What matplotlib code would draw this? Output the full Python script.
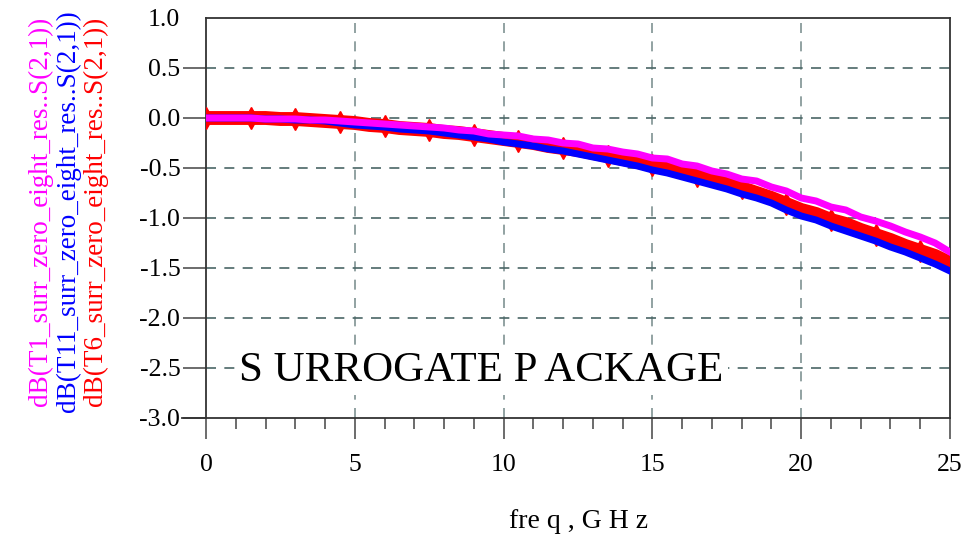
import numpy as np
import matplotlib
matplotlib.use("Agg")
import matplotlib.pyplot as plt
from matplotlib.ticker import MultipleLocator

plt.rcParams['font.family'] = ['Liberation Serif', 'DejaVu Serif']

# Frequency sweep (GHz) and the three S(2,1) traces in dB
freq = np.arange(0, 25.01, 0.5)

s21_t1 = [0.00, 0.00, 0.00, 0.00, -0.01, -0.01, -0.01, -0.02, -0.02, -0.03,
          -0.04, -0.05, -0.06, -0.07, -0.08, -0.09, -0.10, -0.12, -0.13, -0.16,
          -0.17, -0.18, -0.21, -0.22, -0.25, -0.26, -0.30, -0.31, -0.34, -0.36,
          -0.40, -0.41, -0.46, -0.48, -0.53, -0.56, -0.61, -0.63, -0.69, -0.73,
          -0.80, -0.83, -0.89, -0.92, -0.99, -1.03, -1.08, -1.14, -1.19, -1.25,
          -1.34]

s21_t11 = [0.00, 0.00, 0.00, 0.00, -0.01, -0.01, -0.02, -0.02, -0.03, -0.05,
           -0.07, -0.08, -0.09, -0.11, -0.12, -0.13, -0.15, -0.17, -0.19, -0.21,
           -0.24, -0.26, -0.28, -0.31, -0.33, -0.36, -0.39, -0.42, -0.45, -0.48,
           -0.52, -0.55, -0.59, -0.63, -0.67, -0.71, -0.76, -0.80, -0.85, -0.92,
           -0.98, -1.02, -1.08, -1.13, -1.18, -1.23, -1.29, -1.34, -1.40, -1.46,
           -1.53]

s21_t6 = [0.00, 0.00, 0.00, 0.00, 0.00, -0.01, -0.01, -0.02, -0.03, -0.04,
          -0.05, -0.07, -0.08, -0.10, -0.11, -0.12, -0.14, -0.15, -0.17, -0.19,
          -0.21, -0.23, -0.25, -0.28, -0.30, -0.32, -0.35, -0.38, -0.41, -0.44,
          -0.47, -0.50, -0.54, -0.58, -0.62, -0.66, -0.70, -0.75, -0.80, -0.86,
          -0.92, -0.96, -1.02, -1.06, -1.12, -1.17, -1.22, -1.28, -1.33, -1.38,
          -1.45]

trace_labels = ["dB(T1_surr_zero_eight_res..S(2,1))",
                "dB(T11_surr_zero_eight_res..S(2,1))",
                "dB(T6_surr_zero_eight_res..S(2,1))"]
trace_colors = ["#ff00ff", "#0000ff", "#ff0000"]

x_ticks = [0, 5, 10, 15, 20, 25]
y_ticks = [-3.0, -2.5, -2.0, -1.5, -1.0, -0.5, 0.0, 0.5, 1.0]

fig = plt.figure(figsize=(9.63, 5.37), dpi=100)
ax = fig.add_axes([206 / 963, 1 - 418 / 537, 744 / 963, 400 / 537])

ax.plot(freq, s21_t6, color=trace_colors[2], lw=10, solid_joinstyle='miter',
        marker='d', ms=11, markevery=3, mec=trace_colors[2],
        mfc=trace_colors[2], zorder=3)
ax.plot(freq, s21_t11, color=trace_colors[1], lw=5, zorder=4)
ax.plot(freq, s21_t1, color=trace_colors[0], lw=5, zorder=5)

ax.set_xlim(0, 25)
ax.set_ylim(-3.0, 1.0)
ax.set_xticks(x_ticks)
ax.set_yticks(y_ticks)
ax.set_yticklabels([f"{v:.1f}" for v in y_ticks])
ax.xaxis.set_minor_locator(MultipleLocator(1))

# dashed grid: vertical lines lighter than horizontal ones
for xv in x_ticks[1:-1]:
    ax.axvline(xv, color='#7f9292', lw=1.2, ls=(0, (6, 5)), zorder=1)
for yv in y_ticks[1:-1]:
    ax.axhline(yv, color='#4a6666', lw=1.2, ls=(0, (6, 5)), zorder=1)

for s in ax.spines.values():
    s.set_color('#333333')
    s.set_linewidth(1.3)

ax.tick_params(axis='both', which='major', direction='out', color='#444444',
               width=1.1, labelsize=18.5)
ax.tick_params(axis='y', length=16.5, pad=2)
ax.tick_params(axis='x', length=15, pad=11)
ax.tick_params(axis='x', which='minor', length=8, color='#444444', width=1.1)
ax.yaxis.get_major_ticks()[-1].tick1line.set_visible(False)

# bottom axis line continues out past the left spine
ax.plot([-0.8, 0], [-3.0, -3.0], color='#333333', lw=1.3, clip_on=False, zorder=6)

ax.text(1.12, -2.53, "S URROGATE P ACKAGE", fontsize=31, ha='left',
        va='center', color='black', zorder=7,
        bbox=dict(facecolor='white', edgecolor='none', pad=3))

for xpos, lbl, col in zip([40, 68, 95], trace_labels, trace_colors):
    fig.text(xpos / 963, 1 - 211 / 537, lbl, rotation=90, color=col,
             fontsize=19.5, ha='center', va='center')

fig.text(578 / 963, 1 - 522 / 537, "fre q , G H z", fontsize=20,
         ha='center', va='center')

fig.savefig("out.png", dpi=100)
